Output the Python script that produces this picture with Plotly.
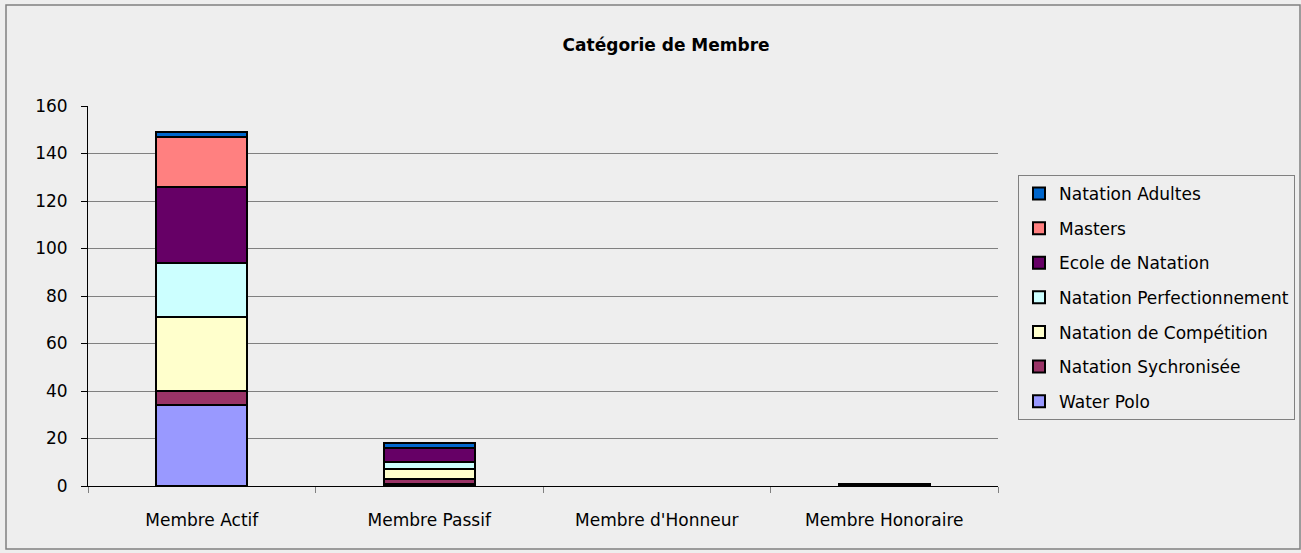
import plotly.graph_objects as go

# données
categories = ["Membre Actif", "Membre Passif", "Membre d'Honneur", "Membre Honoraire"]
series = ["Water Polo", "Natation Sychronisée", "Natation de Compétition",
          "Natation Perfectionnement", "Ecole de Natation", "Masters", "Natation Adultes"]
water_polo = [34, 1, 0, 0]
synchro = [6, 2, 0, 1]
competition = [31, 4, 0, 0]
perfectionnement = [23, 3, 0, 0]
ecole = [32, 6, 0, 0]
masters = [21, 0, 0, 0]
adultes = [2, 2, 0, 0]
couleurs = ["#9999FF", "#993366", "#FFFFCC", "#CCFFFF", "#660066", "#FF8080", "#0066CC"]

valeurs = [water_polo, synchro, competition, perfectionnement, ecole, masters, adultes]

fig = go.Figure()
for i, (nom, vals, coul) in enumerate(zip(series, valeurs, couleurs)):
    # les zéros ne sont pas dessinés
    fig.add_trace(go.Bar(
        x=categories, y=[v if v else None for v in vals], name=nom,
        legendgroup=nom, legendrank=100 - i,
        marker=dict(color=coul, line=dict(color="black", width=2)),
    ))

W, H = 1301, 553
L, R, T, B = 88, 998, 106, 486
pw, ph = R - L, B - T

def px(x):
    return (x - L) / pw

def py(y):
    return (B - y) / ph

fig.update_layout(
    width=W, height=H,
    margin=dict(l=L, r=W - R, t=T, b=H - B, autoexpand=False),
    barmode="stack", bargap=0.6,
    paper_bgcolor="#EEEEEE", plot_bgcolor="#EEEEEE",
    font=dict(family="DejaVu Sans", size=17, color="black"),
    title=dict(text="<b>Catégorie de Membre</b>", x=0.512, xanchor="center",
               y=1 - 45 / H, yanchor="middle", yref="container",
               font=dict(size=17)),
    legend=dict(x=px(1018), y=py(175), xanchor="left", yanchor="top",
                traceorder="grouped", tracegroupgap=9.5, itemwidth=30,
                bgcolor="#EEEEEE", bordercolor="#808080", borderwidth=1,
                font=dict(size=17), entrywidth=244),
    xaxis=dict(showline=True, linecolor="black", linewidth=1,
               ticks="outside", tickson="boundaries", ticklen=6, tickcolor="#808080",
               showgrid=False, ticklabelstandoff=19),
    yaxis=dict(range=[0, 160], dtick=20, showline=True, linecolor="black", linewidth=1,
               ticks="outside", ticklen=6, tickcolor="black", ticklabelstandoff=10,
               showgrid=True, gridcolor="#808080", gridwidth=1, zeroline=False),
    shapes=[dict(type="rect", xref="paper", yref="paper",
                 x0=px(6), x1=px(1300), y0=py(549), y1=py(5),
                 line=dict(color="#808080", width=1.5))],
)

fig.write_html("out.html", config={"displayModeBar": False},
               post_script="document.body.style.margin='0';")
